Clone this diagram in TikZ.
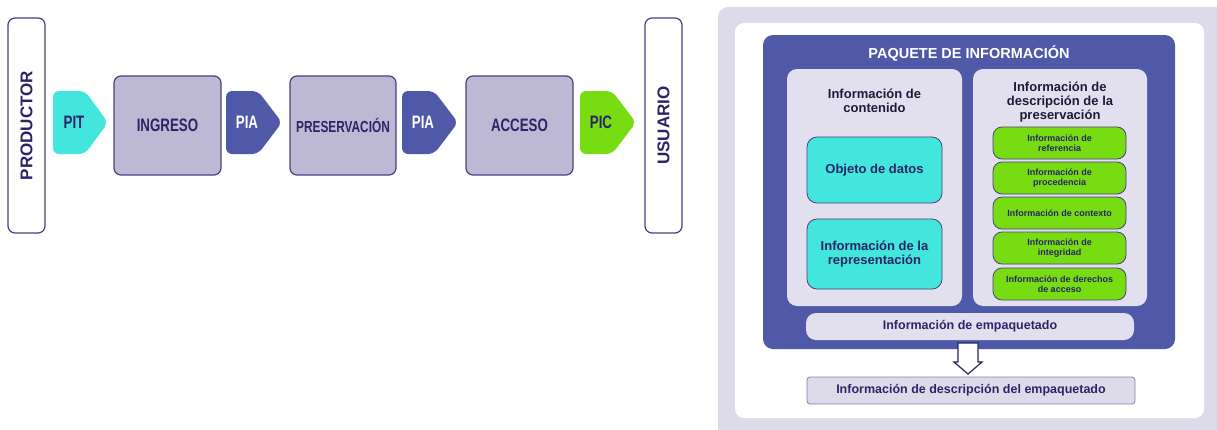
\documentclass[tikz,border=0pt]{standalone}
\usepackage{graphicx}
\usepackage{fontspec}
\setmainfont{Liberation Sans}
\definecolor{navy}{HTML}{2B2467}
\definecolor{edgec}{HTML}{4A3F7F}
\definecolor{lav}{HTML}{BDB8D4}
\definecolor{cyanf}{HTML}{42E6DD}
\definecolor{greenf}{HTML}{77DD12}
\definecolor{bluef}{HTML}{5059A8}
\definecolor{panelc}{HTML}{E2DFEE}
\definecolor{outerbg}{HTML}{DDDBE9}
\definecolor{descedge}{HTML}{8A80B0}
\definecolor{darktxt}{HTML}{1E1B3A}
\newcommand\cond[1]{\scalebox{0.74}[1]{#1}}
\tikzset{
  actor/.style={draw=edgec, line width=1.2pt, fill=white, rounded corners=7pt, inner sep=0pt,
    minimum width=215pt, minimum height=37pt, rotate=90, text=navy,
    font=\fontsize{17}{18}\selectfont\bfseries},
  proc/.style={draw=edgec, line width=1.2pt, fill=lav, rounded corners=7pt, inner sep=0pt,
    minimum height=99pt, text=navy, font=\fontsize{18}{18}\selectfont\bfseries},
  tagshape/.style={rounded corners=6pt},
  taglabel/.style={inner sep=0pt, font=\fontsize{18}{18}\selectfont\bfseries},
  panel/.style={fill=panelc, rounded corners=10pt, inner sep=0pt, minimum height=237pt},
  cyanbox/.style={draw=edgec, line width=0.8pt, fill=cyanf, rounded corners=10pt, inner sep=0pt,
    minimum width=135pt, align=center, text=navy, font=\fontsize{13}{14}\selectfont\bfseries},
  greenbox/.style={draw=edgec, line width=0.8pt, fill=greenf, rounded corners=9pt, inner sep=0pt,
    minimum width=133pt, minimum height=32pt, align=center, text=navy,
    font=\fontsize{9}{10}\selectfont\bfseries},
  ptitle/.style={inner sep=0pt, align=center, text=darktxt, font=\fontsize{13}{14}\selectfont\bfseries},
  bar/.style={inner sep=0pt, minimum width=328pt, minimum height=27pt, text=navy,
    font=\fontsize{12.5}{13}\selectfont\bfseries},
}
\begin{document}
\begin{tikzpicture}[x=1pt, y=-1pt]
\useasboundingbox (0,0) rectangle (1217,429);
% ---------- left flow ----------
\node[actor] (prod) at (26.5,125.5) {PRODUCTOR};
\node[actor] (usu) at (663.5,125.5) {USUARIO};
\node[proc, minimum width=107pt] (ing) at (167.5,125.5) {\cond{INGRESO}};
\node[proc, minimum width=106pt, font=\fontsize{16}{16}\selectfont\bfseries] (pres) at (343,125.5) {\cond{PRESERVACIÓN}};
\node[proc, minimum width=107pt] (acc) at (519.5,125.5) {\cond{ACCESO}};
% tags
\fill[tagshape, cyanf] (53,91) -- (85,91) -- (108,122.5) -- (85,154) -- (53,154) -- cycle;
\node[taglabel, text=navy] (pit) at (74,122) {\cond{PIT}};
\fill[tagshape, bluef] (226,91) -- (258,91) -- (282,122.5) -- (258,154) -- (226,154) -- cycle;
\node[taglabel, text=white] (pia1) at (247,122) {\cond{PIA}};
\fill[tagshape, bluef] (402,91) -- (434,91) -- (458,122.5) -- (434,154) -- (402,154) -- cycle;
\node[taglabel, text=white] (pia2) at (423,122) {\cond{PIA}};
\fill[tagshape, greenf] (580,91) -- (612,91) -- (636,122.5) -- (612,154) -- (580,154) -- cycle;
\node[taglabel, text=navy] (pic) at (601,122) {\cond{PIC}};
% ---------- right: information package ----------
\fill[outerbg, rounded corners=10pt] (718,7) rectangle (1240,450);
\fill[white, rounded corners=9pt] (735,23) rectangle (1204,418);
\node[fill=bluef, rounded corners=10pt, inner sep=0pt, minimum width=412pt, minimum height=314pt] (paq) at (969,192) {};
\node[inner sep=0pt, text=white, font=\fontsize{14.5}{15}\selectfont\bfseries] (paqt) at (969,53) {PAQUETE DE INFORMACIÓN};
\node[panel, minimum width=175pt] (pl) at (874.5,187.5) {};
\node[panel, minimum width=174pt] (pr) at (1060,187.5) {};
\node[ptitle] (plt) at (874.5,101) {Información de\\contenido};
\node[ptitle] (prt) at (1060,102) {Información de\\descripción de la\\preservación};
\node[cyanbox, minimum height=66pt] (obj) at (874.5,170) {Objeto de datos};
\node[cyanbox, minimum height=70pt] (rep) at (874.5,254) {Información de la\\representación};
\node[greenbox] (g1) at (1059.5,143) {Información de\\referencia};
\node[greenbox] (g2) at (1059.5,178) {Información de\\procedencia};
\node[greenbox] (g3) at (1059.5,213) {Información de contexto};
\node[greenbox] (g4) at (1059.5,248) {Información de\\integridad};
\node[greenbox] (g5) at (1059.5,284) {Información de derechos\\de acceso};
\node[bar, fill=panelc, rounded corners=10pt] (emp) at (970,326.5) {Información de empaquetado};
\node[bar, fill=outerbg, draw=descedge, line width=0.8pt, rounded corners=3pt] (desc) at (971,390.5) {Información de descripción del empaquetado};
% hollow arrow from emp to desc
\coordinate (at) at (968,343);
\coordinate (ab) at (968,374);
\draw[navy, fill=white, line width=1.2pt, line join=miter]
  ([shift={(-10,0)}]at) -- ([shift={(10,0)}]at) -- ([shift={(10,-12)}]ab) -- ([shift={(14,-12)}]ab)
  -- (ab) -- ([shift={(-14,-12)}]ab) -- ([shift={(-10,-12)}]ab) -- cycle;
\end{tikzpicture}
\end{document}
